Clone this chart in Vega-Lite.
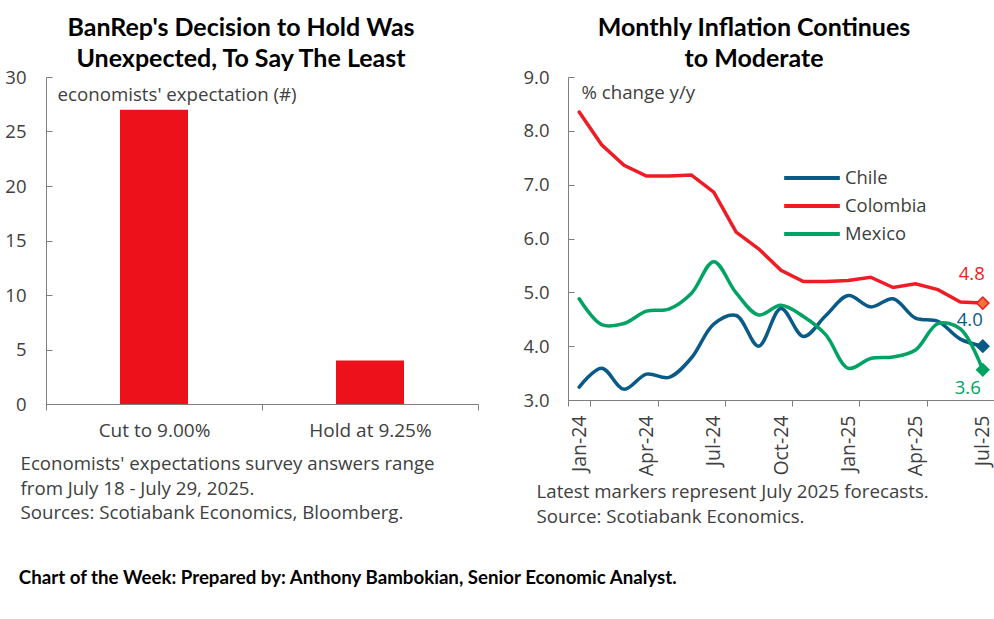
{
  "$schema": "https://vega.github.io/schema/vega-lite/v6.json",
  "padding": {"left": 4, "top": 16, "right": 1, "bottom": 5},
  "background": "white",
  "config": {
    "font": "Open Sans",
    "view": {"stroke": null},
    "concat": {"spacing": 43},
    "axis": {
      "domainColor": "#7f7f7f",
      "tickColor": "#7f7f7f",
      "labelColor": "#404040",
      "titleColor": "#404040",
      "labelFontSize": 18.5,
      "titleFontSize": 18.7,
      "titleFontWeight": "normal",
      "grid": false
    },
    "title": {"font": "Lato", "fontSize": 25, "fontWeight": "bold", "color": "#000000", "lineHeight": 31}
  },
  "title": {
    "text": "Chart of the Week:  Prepared by: Anthony Bambokian, Senior Economic Analyst.",
    "orient": "bottom",
    "anchor": "start",
    "font": "Lato",
    "fontSize": 18.7,
    "fontWeight": "bold",
    "offset": 43,
    "dx": 14,
    "lineHeight": 20
  },
  "hconcat": [
    {
      "width": 432,
      "height": 327,
      "title": {
        "text": ["BanRep's Decision to Hold Was", "Unexpected, To Say The Least"],
        "anchor": "middle",
        "frame": "group",
        "offset": -4,
        "dx": -21
      },
      "data": {
        "values": [
          {"decision": "Cut to 9.00%", "count": 27},
          {"decision": "Hold at 9.25%", "count": 4}
        ]
      },
      "mark": {"type": "bar", "color": "#EC111A", "width": 68},
      "encoding": {
        "x": {
          "field": "decision",
          "type": "nominal",
          "sort": null,
          "scale": {"paddingInner": 0, "paddingOuter": 0},
          "axis": {
            "labelAngle": 0,
            "labelPadding": 11,
            "labelFontSize": 19,
            "tickBand": "extent",
            "tickSize": 6,
            "title": [
              "Economists' expectations survey answers range",
              "from July 18 - July 29, 2025.",
              "Sources: Scotiabank Economics, Bloomberg."
            ],
            "titleAlign": "left",
            "titleAnchor": "start",
            "titleBaseline": "top",
            "titleX": -26,
            "titleY": 50.5,
            "titleLineHeight": 24.5
          }
        },
        "y": {
          "field": "count",
          "type": "quantitative",
          "scale": {"domain": [0, 30]},
          "axis": {
            "values": [0, 5, 10, 15, 20, 25, 30],
            "tickSize": -6,
            "labelPadding": 26,
            "title": "economists' expectation (#)",
            "titleAngle": 0,
            "titleAlign": "left",
            "titleBaseline": "middle",
            "titleX": 11,
            "titleY": 17
          }
        }
      }
    },
    {
      "width": 426,
      "height": 323,
      "title": {
        "text": ["Monthly Inflation Continues", "to Moderate"],
        "anchor": "middle",
        "frame": "group",
        "offset": -4,
        "dx": -27
      },
      "data": {
        "values": [
          {"month": "Jan-24", "country": "Chile", "value": 3.24},
          {"month": "Feb-24", "country": "Chile", "value": 3.59},
          {"month": "Mar-24", "country": "Chile", "value": 3.2},
          {"month": "Apr-24", "country": "Chile", "value": 3.48},
          {"month": "May-24", "country": "Chile", "value": 3.42},
          {"month": "Jun-24", "country": "Chile", "value": 3.78},
          {"month": "Jul-24", "country": "Chile", "value": 4.41},
          {"month": "Aug-24", "country": "Chile", "value": 4.57},
          {"month": "Sep-24", "country": "Chile", "value": 4.0},
          {"month": "Oct-24", "country": "Chile", "value": 4.7},
          {"month": "Nov-24", "country": "Chile", "value": 4.18},
          {"month": "Dec-24", "country": "Chile", "value": 4.57},
          {"month": "Jan-25", "country": "Chile", "value": 4.94},
          {"month": "Feb-25", "country": "Chile", "value": 4.73},
          {"month": "Mar-25", "country": "Chile", "value": 4.88},
          {"month": "Apr-25", "country": "Chile", "value": 4.52},
          {"month": "May-25", "country": "Chile", "value": 4.46},
          {"month": "Jun-25", "country": "Chile", "value": 4.13},
          {"month": "Jul-25", "country": "Chile", "value": 4.0},
          {"month": "Jan-24", "country": "Colombia", "value": 8.35},
          {"month": "Feb-24", "country": "Colombia", "value": 7.74},
          {"month": "Mar-24", "country": "Colombia", "value": 7.36},
          {"month": "Apr-24", "country": "Colombia", "value": 7.16},
          {"month": "May-24", "country": "Colombia", "value": 7.16},
          {"month": "Jun-24", "country": "Colombia", "value": 7.18},
          {"month": "Jul-24", "country": "Colombia", "value": 6.86},
          {"month": "Aug-24", "country": "Colombia", "value": 6.12},
          {"month": "Sep-24", "country": "Colombia", "value": 5.81},
          {"month": "Oct-24", "country": "Colombia", "value": 5.41},
          {"month": "Nov-24", "country": "Colombia", "value": 5.2},
          {"month": "Dec-24", "country": "Colombia", "value": 5.2},
          {"month": "Jan-25", "country": "Colombia", "value": 5.22},
          {"month": "Feb-25", "country": "Colombia", "value": 5.28},
          {"month": "Mar-25", "country": "Colombia", "value": 5.09},
          {"month": "Apr-25", "country": "Colombia", "value": 5.16},
          {"month": "May-25", "country": "Colombia", "value": 5.05},
          {"month": "Jun-25", "country": "Colombia", "value": 4.82},
          {"month": "Jul-25", "country": "Colombia", "value": 4.8},
          {"month": "Jan-24", "country": "Mexico", "value": 4.88},
          {"month": "Feb-24", "country": "Mexico", "value": 4.4},
          {"month": "Mar-24", "country": "Mexico", "value": 4.42},
          {"month": "Apr-24", "country": "Mexico", "value": 4.65},
          {"month": "May-24", "country": "Mexico", "value": 4.69},
          {"month": "Jun-24", "country": "Mexico", "value": 4.98},
          {"month": "Jul-24", "country": "Mexico", "value": 5.57},
          {"month": "Aug-24", "country": "Mexico", "value": 4.99},
          {"month": "Sep-24", "country": "Mexico", "value": 4.58},
          {"month": "Oct-24", "country": "Mexico", "value": 4.76},
          {"month": "Nov-24", "country": "Mexico", "value": 4.55},
          {"month": "Dec-24", "country": "Mexico", "value": 4.21},
          {"month": "Jan-25", "country": "Mexico", "value": 3.59},
          {"month": "Feb-25", "country": "Mexico", "value": 3.77},
          {"month": "Mar-25", "country": "Mexico", "value": 3.8},
          {"month": "Apr-25", "country": "Mexico", "value": 3.93},
          {"month": "May-25", "country": "Mexico", "value": 4.42},
          {"month": "Jun-25", "country": "Mexico", "value": 4.32},
          {"month": "Jul-25", "country": "Mexico", "value": 3.56}
        ]
      },
      "encoding": {
        "x": {
          "field": "month",
          "type": "ordinal",
          "bandPosition": 0.5,
          "scale": {
            "type": "band",
            "paddingInner": 0,
            "paddingOuter": 0,
            "domain": ["Jan-24", "Feb-24", "Mar-24", "Apr-24", "May-24", "Jun-24", "Jul-24", "Aug-24", "Sep-24", "Oct-24", "Nov-24", "Dec-24", "Jan-25", "Feb-25", "Mar-25", "Apr-25", "May-25", "Jun-25", "Jul-25"]
          },
          "axis": {
            "values": ["Jan-24", "Apr-24", "Jul-24", "Oct-24", "Jan-25", "Apr-25", "Jul-25"],
            "labelAngle": 270,
            "labelPadding": 9,
            "labelFontSize": 19.5,
            "tickBand": "extent",
            "tickSize": 6,
            "title": [
              "Latest markers represent July 2025 forecasts.",
              "Source: Scotiabank Economics."
            ],
            "titleAlign": "left",
            "titleAnchor": "start",
            "titleBaseline": "top",
            "titleX": -32,
            "titleY": 82,
            "titleLineHeight": 25
          }
        },
        "y": {
          "field": "value",
          "type": "quantitative",
          "scale": {"domain": [3, 9]},
          "axis": {
            "values": [3, 4, 5, 6, 7, 8, 9],
            "format": ".1f",
            "tickSize": -6,
            "labelPadding": 25,
            "title": "% change y/y",
            "titleAngle": 0,
            "titleAlign": "left",
            "titleBaseline": "middle",
            "titleX": 13,
            "titleY": 15
          }
        }
      },
      "layer": [
        {
          "transform": [{"filter": "datum.country === 'Colombia'"}],
          "mark": {"type": "line", "strokeWidth": 3.5, "interpolate": "linear", "strokeCap": "round"},
          "encoding": {
            "color": {
              "field": "country",
              "type": "nominal",
              "scale": {"domain": ["Chile", "Colombia", "Mexico"], "range": ["#0A5A87", "#EE1C25", "#00A364"]},
              "legend": {
                "orient": "none",
                "legendX": 736,
                "legendY": 87,
                "title": null,
                "symbolType": "stroke",
                "symbolSize": 3100,
                "symbolStrokeWidth": 4,
                "clipHeight": 28,
                "labelFont": "Open Sans",
                "labelFontSize": 18.4,
                "labelColor": "#404040",
                "labelOffset": 3,
                "rowPadding": 0,
                "padding": 0
              }
            }
          }
        },
        {
          "transform": [{"filter": "datum.country !== 'Colombia'"}],
          "mark": {"type": "line", "strokeWidth": 3.5, "interpolate": "catmull-rom", "strokeCap": "round"},
          "encoding": {
            "color": {"field": "country", "type": "nominal"}
          }
        },
        {
          "transform": [{"filter": "datum.month === 'Jul-25'"}],
          "mark": {"type": "point", "shape": "diamond", "size": 150, "filled": true, "strokeWidth": 1.5, "opacity": 1},
          "encoding": {
            "fill": {
              "field": "country",
              "type": "nominal",
              "scale": {"domain": ["Chile", "Colombia", "Mexico"], "range": ["#0A5A87", "#EB7336", "#00A364"]},
              "legend": null
            },
            "stroke": {
              "field": "country",
              "type": "nominal",
              "scale": {"domain": ["Chile", "Colombia", "Mexico"], "range": ["#0A5A87", "#EE1C25", "#00A364"]},
              "legend": null
            }
          }
        },
        {
          "transform": [{"filter": "datum.month === 'Jul-25' && datum.country === 'Colombia'"}],
          "mark": {"type": "text", "color": "#EE1C25", "fontSize": 18.5, "dx": -11, "dy": -29},
          "encoding": {"text": {"field": "value", "type": "quantitative", "format": ".1f"}}
        },
        {
          "transform": [{"filter": "datum.month === 'Jul-25' && datum.country === 'Chile'"}],
          "mark": {"type": "text", "color": "#0A5A87", "fontSize": 18.5, "dx": -13, "dy": -26},
          "encoding": {"text": {"field": "value", "type": "quantitative", "format": ".1f"}}
        },
        {
          "transform": [{"filter": "datum.month === 'Jul-25' && datum.country === 'Mexico'"}],
          "mark": {"type": "text", "color": "#00A364", "fontSize": 18.5, "dx": -15, "dy": 18},
          "encoding": {"text": {"field": "value", "type": "quantitative", "format": ".1f"}}
        }
      ]
    }
  ]
}
